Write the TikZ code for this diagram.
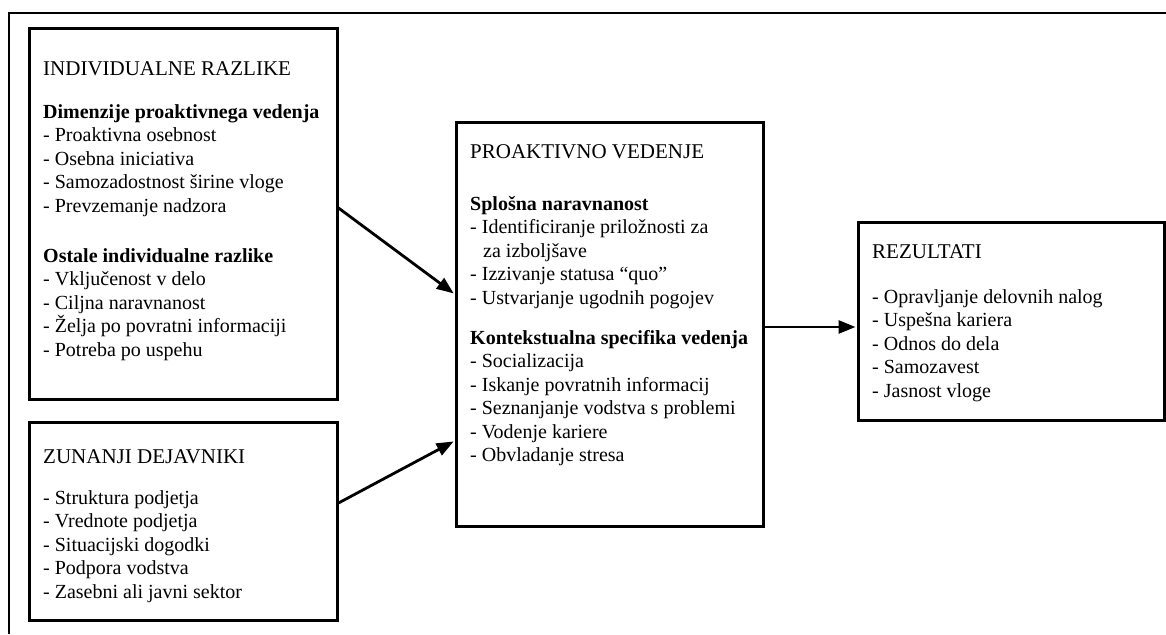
\documentclass[tikz,border=0pt]{standalone}
\usepackage{fontspec}
\setmainfont{Liberation Serif}
\usetikzlibrary{arrows.meta,calc}
\newcommand\boxtitle[1]{{\fontsize{21}{23.5}\selectfont #1}}
\begin{document}
\begin{tikzpicture}[x=1pt,y=-1pt,
  box/.style={draw, line width=3pt, rectangle, inner sep=0pt},
  body/.style={anchor=north west, align=left, inner sep=0pt,
    font=\fontsize{20}{23.5}\selectfont},
  flow/.style={line width=2.8pt, -{Triangle[length=17pt,width=13pt]},
    shorten >=1pt},
  frame/.style={line width=2.5pt}
]
\useasboundingbox (0,0) rectangle (1166,634);
% outer frame (left and top edges)
\draw[frame] (9,634) -- (9,13) -- (1166,13);

% boxes
\node[box, minimum width=308pt, minimum height=370pt] (ind) at (183,214) {};
\node[box, minimum width=308pt, minimum height=198pt] (zun) at (183,521) {};
\node[box, minimum width=307pt, minimum height=404pt] (pro) at (609.5,324) {};
\node[box, minimum width=306pt, minimum height=198pt] (rez) at (1011,321) {};

% box contents
\node[body] (indtxt) at (43,61.25) {%
\boxtitle{INDIVIDUALNE RAZLIKE}\\[19.5pt]
\textbf{Dimenzije proaktivnega vedenja}\\
- Proaktivna osebnost\\
- Osebna iniciativa\\
- Samozadostnost širine vloge\\
- Prevzemanje nadzora\\[26.5pt]
\textbf{Ostale individualne razlike}\\
- Vključenost v delo\\
- Ciljna naravnanost\\
- Želja po povratni informaciji\\
- Potreba po uspehu};

\node[body] (zuntxt) at (43,449.25) {%
\boxtitle{ZUNANJI DEJAVNIKI}\\[17.5pt]
- Struktura podjetja\\
- Vrednote podjetja\\
- Situacijski dogodki\\
- Podpora vodstva\\
- Zasebni ali javni sektor};

\node[body] (protxt) at (470,144.25) {%
\boxtitle{PROAKTIVNO VEDENJE}\\[28.5pt]
\textbf{Splošna naravnanost}\\
- Identificiranje priložnosti za\\
\hspace*{13pt}za izboljšave\\
- Izzivanje statusa “quo”\\
- Ustvarjanje ugodnih pogojev\\[16.5pt]
\textbf{Kontekstualna specifika vedenja}\\
- Socializacija\\
- Iskanje povratnih informacij\\
- Seznanjanje vodstva s problemi\\
- Vodenje kariere\\
- Obvladanje stresa};

\node[body] (reztxt) at (872,244.25) {%
\boxtitle{REZULTATI}\\[21.5pt]
- Opravljanje delovnih nalog\\
- Uspešna kariera\\
- Odnos do dela\\
- Samozavest\\
- Jasnost vloge};

% connectors
\draw[flow] ($(ind.east)+(0,-6)$) -- ($(pro.west)+(0,-30)$);
\draw[flow] ($(zun.east)+(0,-18)$) -- ($(pro.west)+(0,117)$);
\draw[flow] ($(pro.east)+(0,3)$) -- ($(rez.west)+(0,6)$);
\end{tikzpicture}
\end{document}
